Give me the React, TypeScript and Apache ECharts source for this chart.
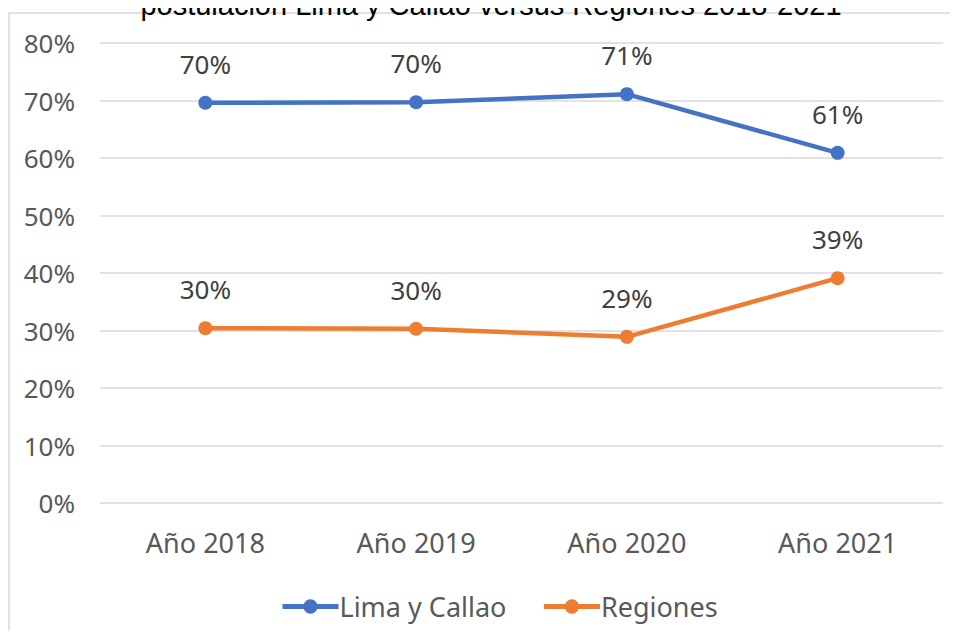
import React, { useEffect, useRef } from "react";
import * as echarts from "echarts";

const titleText = "postulación Lima y Callao versus Regiones 2018-2021";
const categories = ["Año 2018", "Año 2019", "Año 2020", "Año 2021"];
const limaCallao = [0.696, 0.697, 0.711, 0.609];
const regiones = [0.304, 0.303, 0.289, 0.391];
const seriesNames = ["Lima y Callao", "Regiones"];

const FONT = "'Noto Sans', 'Open Sans', sans-serif";

export default function App() {
  const ref = useRef<HTMLDivElement>(null);
  useEffect(() => {
    if (!ref.current) return;
    const chart = echarts.init(ref.current, null, { renderer: "svg" });
    const pct = (v: number) => Math.round(v * 100) + "%";
    const mkSeries = (name: string, data: number[], color: string) => ({
      name,
      type: "line",
      data,
      symbol: "circle",
      symbolSize: 14,
      lineStyle: { color, width: 4.5 },
      itemStyle: { color },
      label: {
        show: true,
        position: "top",
        distance: 19,
        formatter: (p: any) => pct(p.value),
        color: "#404040",
        fontSize: 26,
        fontFamily: FONT,
      },
    });
    chart.setOption({
      animation: false,
      backgroundColor: "#ffffff",
      graphic: [
        {
          type: "rect",
          shape: { x: 9, y: 13, width: 1000, height: 700 },
          style: { fill: "none", stroke: "#d9d9d9", lineWidth: 1.5 },
          silent: true,
        },
        {
          type: "text",
          x: 491,
          y: -10,
          style: {
            text: titleText,
            fontSize: 29,
            fontFamily: "'Liberation Sans', Arial, sans-serif",
            fill: "#000000",
            align: "center",
            verticalAlign: "top",
          },
        },
      ],
      grid: { left: 100, right: 15, top: 43, bottom: 136, containLabel: false },
      xAxis: {
        type: "category",
        data: categories,
        boundaryGap: true,
        axisLine: { show: false },
        axisTick: { show: false },
        axisLabel: {
          color: "#595959",
          fontSize: 27,
          fontFamily: FONT,
          margin: 26,
        },
      },
      yAxis: {
        type: "value",
        min: 0,
        max: 0.8,
        interval: 0.1,
        axisLine: { show: false },
        axisTick: { show: false },
        splitLine: { lineStyle: { color: "#d9d9d9", width: 1.5 } },
        axisLabel: {
          color: "#595959",
          fontSize: 26,
          fontFamily: FONT,
          margin: 25,
          formatter: (v: number) => Math.round(v * 100) + "%",
        },
      },
      legend: {
        data: seriesNames,
        bottom: 14,
        left: 275,
        itemWidth: 56,
        itemHeight: 18,
        itemGap: 35,
        lineStyle: { width: 5 },
        textStyle: { color: "#595959", fontSize: 27, fontFamily: FONT, padding: [0, 0, 0, -4] },
      },
      series: [
        mkSeries(seriesNames[0], limaCallao, "#4472c4"),
        mkSeries(seriesNames[1], regiones, "#ed7d31"),
      ],
    });
    return () => chart.dispose();
  }, []);
  return <div ref={ref} style={{ width: 958, height: 639, margin: -8 }} />;
}
